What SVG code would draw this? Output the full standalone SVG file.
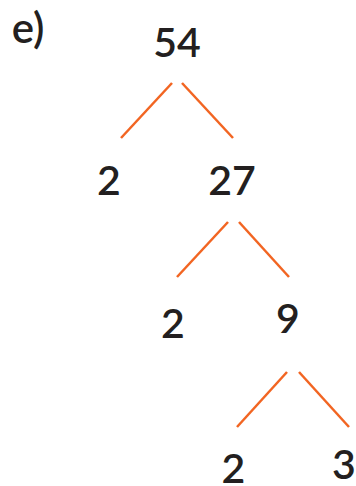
<svg xmlns="http://www.w3.org/2000/svg" width="356" height="486" viewBox="0 0 356 486">
<style>
text{font-family:"Lato","Liberation Sans",sans-serif;font-size:41px;font-weight:600;fill:#231f20;text-anchor:middle}
.c line{stroke:#f26522;stroke-width:2.5;stroke-linecap:butt}
</style>
<rect width="356" height="486" fill="#fff"/>
<g id="label"><text x="28" y="43" style="font-size:42px">e)</text></g>
<g class="c" id="connectors">
<line x1="172" y1="83" x2="121" y2="138"/>
<line x1="182" y1="83" x2="233" y2="138"/>
<line x1="228" y1="222" x2="177" y2="277"/>
<line x1="239" y1="222" x2="289" y2="277"/>
<line x1="287" y1="372" x2="237" y2="427"/>
<line x1="299" y1="372" x2="349" y2="427"/>
</g>
<g id="n54"><text x="177" y="57">54</text></g>
<g id="n2a"><text x="109" y="195">2</text></g>
<g id="n27"><text x="232" y="195">27</text></g>
<g id="n2b"><text x="173" y="338">2</text></g>
<g id="n9"><text x="288" y="333">9</text></g>
<g id="n2c"><text x="233.5" y="483">2</text></g>
<g id="n3"><text x="344" y="479">3</text></g>
</svg>
